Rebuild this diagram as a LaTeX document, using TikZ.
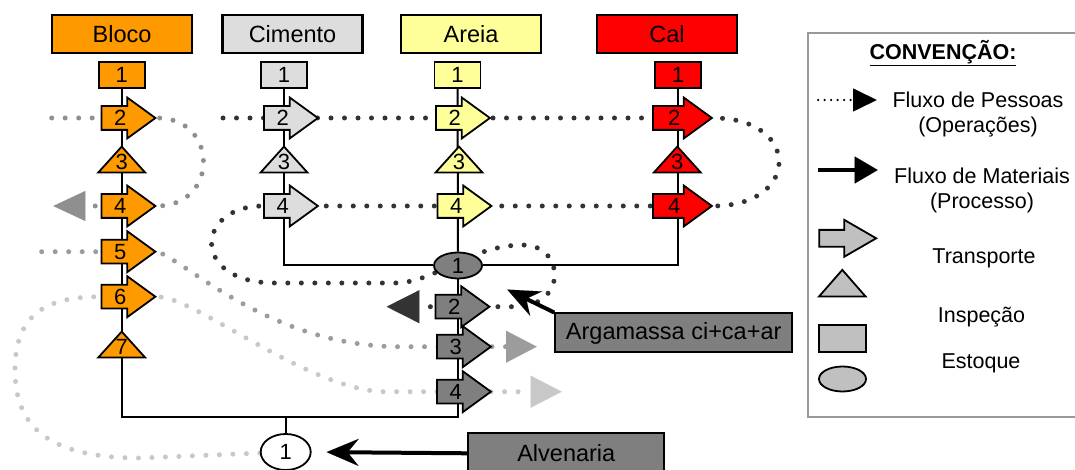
\documentclass[tikz,border=0pt]{standalone}
\usepackage{fontspec}
\setmainfont{Liberation Sans}
\usetikzlibrary{arrows.meta,shapes.geometric,shapes.arrows,backgrounds}

\definecolor{Bloco}{HTML}{FF9900}
\definecolor{Cimento}{HTML}{DDDDDD}
\definecolor{Areia}{HTML}{FFFF99}
\definecolor{Cal}{HTML}{FF0000}
\definecolor{Argam}{HTML}{7F7F7F}
\definecolor{LegFill}{HTML}{C0C0C0}
\definecolor{LegLine}{HTML}{999999}
\definecolor{DotDark}{HTML}{333333}
\definecolor{DotA}{HTML}{8F8F8F}
\definecolor{DotMid}{HTML}{9C9C9C}
\definecolor{DotLight}{HTML}{C8C8C8}

\begin{document}
\begin{tikzpicture}[line join=miter,
  header/.style={draw,rectangle,line width=2.2bp,minimum width=140bp,minimum height=38bp,
    inner sep=0pt,font=\fontsize{23.5bp}{23.5bp}\selectfont},
  num/.style={font=\fontsize{22bp}{22bp}\selectfont},
  box/.style={draw,rectangle,line width=1.8bp,minimum width=46bp,minimum height=26bp,inner sep=0pt,num},
  transp/.style={draw,single arrow,line width=1.8bp,single arrow head extend=8.5bp,
    single arrow tip angle=72,inner sep=0pt,inner ysep=3bp,text width=26bp,align=center,
    text height=16bp,text depth=0bp,minimum height=54bp,anchor=tail,num},
  insp/.style={draw,isosceles triangle,shape border rotate=90,isosceles triangle stretches,
    minimum width=47bp,minimum height=26bp,inner sep=0pt,line width=1.8bp,anchor=south},
  stock/.style={draw,ellipse,line width=1.8bp,inner sep=0pt,num},
  labelbox/.style={draw,rectangle,line width=2bp,fill=Argam,inner sep=0pt,
    font=\fontsize{23.5bp}{23.5bp}\selectfont},
  flowline/.style={line width=2bp},
  pessoas/.style={line width=5bp,line cap=round,dash pattern=on 0bp off 13.5bp},
  matflow/.style={line width=4bp,-{Stealth[length=32bp,width=27bp,inset=11bp,line width=0.01bp]}},
  legtext/.style={font=\fontsize{21.5bp}{25bp}\selectfont,align=center},
]
\useasboundingbox (0bp,0bp) rectangle (1075bp,470bp);
\clip (0bp,0bp) rectangle (1075bp,470bp);
%%
\node (hdr_bloco) at (122bp,436bp) [header,fill=Bloco] {Bloco};
\node (hdr_cimento) at (292.5bp,436bp) [header,fill=Cimento] {Cimento};
\node (hdr_areia) at (471bp,436bp) [header,fill=Areia] {Areia};
\node (hdr_cal) at (667bp,436bp) [header,fill=Cal] {Cal};

\node (bloco_1) at (121.7bp,395bp) [box,fill=Bloco] {1};
\node (bloco_2) at (100.5bp,352bp) [transp,fill=Bloco] {2};
\node (bloco_3) at (121.7bp,296.5bp) [insp,fill=Bloco,
  label={[num,anchor=south,inner sep=0pt,yshift=3.5bp]south:3}] {};
\node (bloco_4) at (100.5bp,264bp) [transp,fill=Bloco] {4};
\node (bloco_5) at (100.5bp,218.3bp) [transp,fill=Bloco] {5};
\node (bloco_6) at (100.5bp,173.3bp) [transp,fill=Bloco] {6};
\node (bloco_7) at (121.7bp,111.5bp) [insp,fill=Bloco,
  label={[num,anchor=south,inner sep=0pt,yshift=3.5bp]south:7}] {};

\node (cimento_1) at (284bp,395bp) [box,fill=Cimento] {1};
\node (cimento_2) at (263bp,352bp) [transp,fill=Cimento] {2};
\node (cimento_3) at (284bp,296.5bp) [insp,fill=Cimento,
  label={[num,anchor=south,inner sep=0pt,yshift=3.5bp]south:3}] {};
\node (cimento_4) at (263bp,264bp) [transp,fill=Cimento] {4};

\node (areia_1) at (457.5bp,395bp) [box,fill=Areia] {1};
\node (areia_2) at (435bp,352bp) [transp,fill=Areia] {2};
\node (areia_3) at (459bp,296.5bp) [insp,fill=Areia,
  label={[num,anchor=south,inner sep=0pt,yshift=3.5bp]south:3}] {};
\node (areia_4) at (436.5bp,264bp) [transp,fill=Areia] {4};

\node (cal_1) at (678bp,395bp) [box,fill=Cal] {1};
\node (cal_2) at (652bp,352bp) [transp,fill=Cal,minimum height=59bp] {2};
\node (cal_3) at (677.3bp,296.5bp) [insp,fill=Cal,
  label={[num,anchor=south,inner sep=0pt,yshift=3.5bp]south:3}] {};
\node (cal_4) at (652bp,264bp) [transp,fill=Cal,minimum height=59bp] {4};

\node (am) at (458bp,204.5bp) [stock,fill=Argam,minimum width=48bp,minimum height=26bp] {1};
\node (arg_2) at (434.5bp,163.3bp) [transp,fill=Argam] {2};
\node (arg_3) at (436bp,123.3bp) [transp,fill=Argam] {3};
\node (arg_4) at (436bp,78.3bp) [transp,fill=Argam] {4};
\node (argamassa) at (673.7bp,137bp) [labelbox,minimum width=237bp,minimum height=39bp]
  {Argamassa ci+ca+ar};

\node (alv_1) at (285.7bp,18bp) [stock,fill=white,minimum width=50bp,minimum height=36bp] {1};
\node (alvenaria) at (566.3bp,16.7bp) [labelbox,minimum width=196bp,minimum height=40bp] {Alvenaria};

\coordinate (bl_corner) at (121.7bp,53.3bp);
\coordinate (pA_start) at (51.7bp,352bp);
\coordinate (pA_end) at (53.3bp,264bp);
\coordinate (pB_start) at (223bp,352bp);
\coordinate (pB_end) at (386.7bp,163.3bp);
\coordinate (pC_start) at (41.7bp,218.3bp);
\coordinate (pC_end) at (536.7bp,123.3bp);
\coordinate (pD_end) at (561.7bp,78.3bp);

\draw [matflow,shorten >=34bp] (argamassa.north west) -- (am);
\draw [matflow,shorten >=15bp] (alvenaria.west) -- (alv_1.east);

\begin{scope}[on background layer]
\draw [flowline] (bloco_1) -- (bl_corner) -| (am);
\draw [flowline] (areia_1) -- (am);
\draw [flowline] (cimento_1) |- (am);
\draw [flowline] (cal_1) |- (am);
\draw [flowline] (alv_1) -- (alv_1 |- bl_corner);

\draw [pessoas,draw=DotA,-{Triangle[length=32bp,width=30bp,line width=0.01bp]}]
  (pA_start) -- (bloco_2.tip) .. controls (219bp,352bp) and (219bp,264bp)
  .. (bloco_4.tip) -- (pA_end);
\draw [pessoas,draw=DotDark,-{Triangle[length=32.6bp,width=33bp,line width=0.01bp]}]
  (pB_start) -- (cal_2.tip) .. controls (801bp,352bp) and (801bp,264bp)
  .. (cal_4.tip) -- (cimento_4.tail) .. controls (195bp,264bp) and (190bp,187bp)
  .. (275bp,187bp) -- (395bp,187bp) .. controls (435bp,187bp) and (470bp,225bp)
  .. (523bp,225bp) .. controls (565bp,225bp) and (568bp,163.3bp)
  .. (515bp,163.3bp) -- (arg_2.tip) -- (pB_end);
\draw [pessoas,draw=DotMid,-{Triangle[length=30.7bp,width=32bp,line width=0.01bp]}]
  (pC_start) -- (bloco_5.tip) .. controls (185bp,210bp) and (270bp,123.3bp)
  .. (400bp,123.3bp) -- (arg_3.tip) -- (pC_end);
\draw [pessoas,draw=DotLight,-{Triangle[length=31bp,width=32bp,line width=0.01bp]}]
  (alv_1) -- (140bp,12bp) .. controls (40bp,12bp) and (15bp,50bp)
  .. (15bp,100bp) .. controls (15bp,155bp) and (45bp,173.3bp)
  .. (bloco_6.tail) -- (bloco_6.tip) .. controls (195bp,173.3bp) and (300bp,85bp)
  .. (380bp,78.3bp) -- (arg_4.tip) -- (pD_end);
\end{scope}

%% legenda
\node (legenda) at (944bp,245bp) [draw=LegLine,line width=1.8bp,minimum width=272bp,
  minimum height=383.4bp] {};
\node (leg_title) at (943bp,417bp) [font=\fontsize{21.5bp}{25bp}\selectfont\bfseries]
  {\underline{CONVENÇÃO:}};
\coordinate (leg_p0) at (818bp,370bp);
\coordinate (leg_p1) at (876.7bp,370bp);
\draw [line width=2.5bp,line cap=round,dash pattern=on 0bp off 6.5bp,
  -{Triangle[length=23.5bp,width=23bp,line width=0.01bp]}] (leg_p0) -- (leg_p1);
\node (leg_pessoas) at (978bp,355.8bp) [legtext] {Fluxo de Pessoas\\(Operações)};
\coordinate (leg_m0) at (818.3bp,300bp);
\coordinate (leg_m1) at (877.7bp,300bp);
\draw [line width=3.5bp,-{Triangle[length=23bp,width=27bp,line width=0.01bp]}]
  (leg_m0) -- (leg_m1);
\node (leg_materiais) at (982bp,279.2bp) [legtext] {Fluxo de Materiais\\(Processo)};
\node (leg_transp) at (818.3bp,231.7bp) [transp,fill=LegFill,text width=27bp,
  text height=15bp,inner ysep=0pt,minimum height=57bp,single arrow head extend=10bp,
  single arrow tip angle=60] {};
\node (leg_transp_txt) at (984bp,211.7bp) [legtext] {Transporte};
\node (leg_insp) at (842.3bp,172.5bp) [insp,fill=LegFill,minimum width=46.7bp,
  minimum height=26.7bp] {};
\node (leg_insp_txt) at (981.5bp,153.3bp) [legtext] {Inspeção};
\node (leg_rect) at (842.3bp,131.7bp) [box,fill=LegFill,minimum width=46.7bp,
  minimum height=26.7bp] {};
\node (leg_estoque_txt) at (981bp,106.7bp) [legtext] {Estoque};
\node (leg_ell) at (842.5bp,91bp) [stock,fill=LegFill,minimum width=47bp,
  minimum height=25bp] {};
\end{tikzpicture}
\end{document}
